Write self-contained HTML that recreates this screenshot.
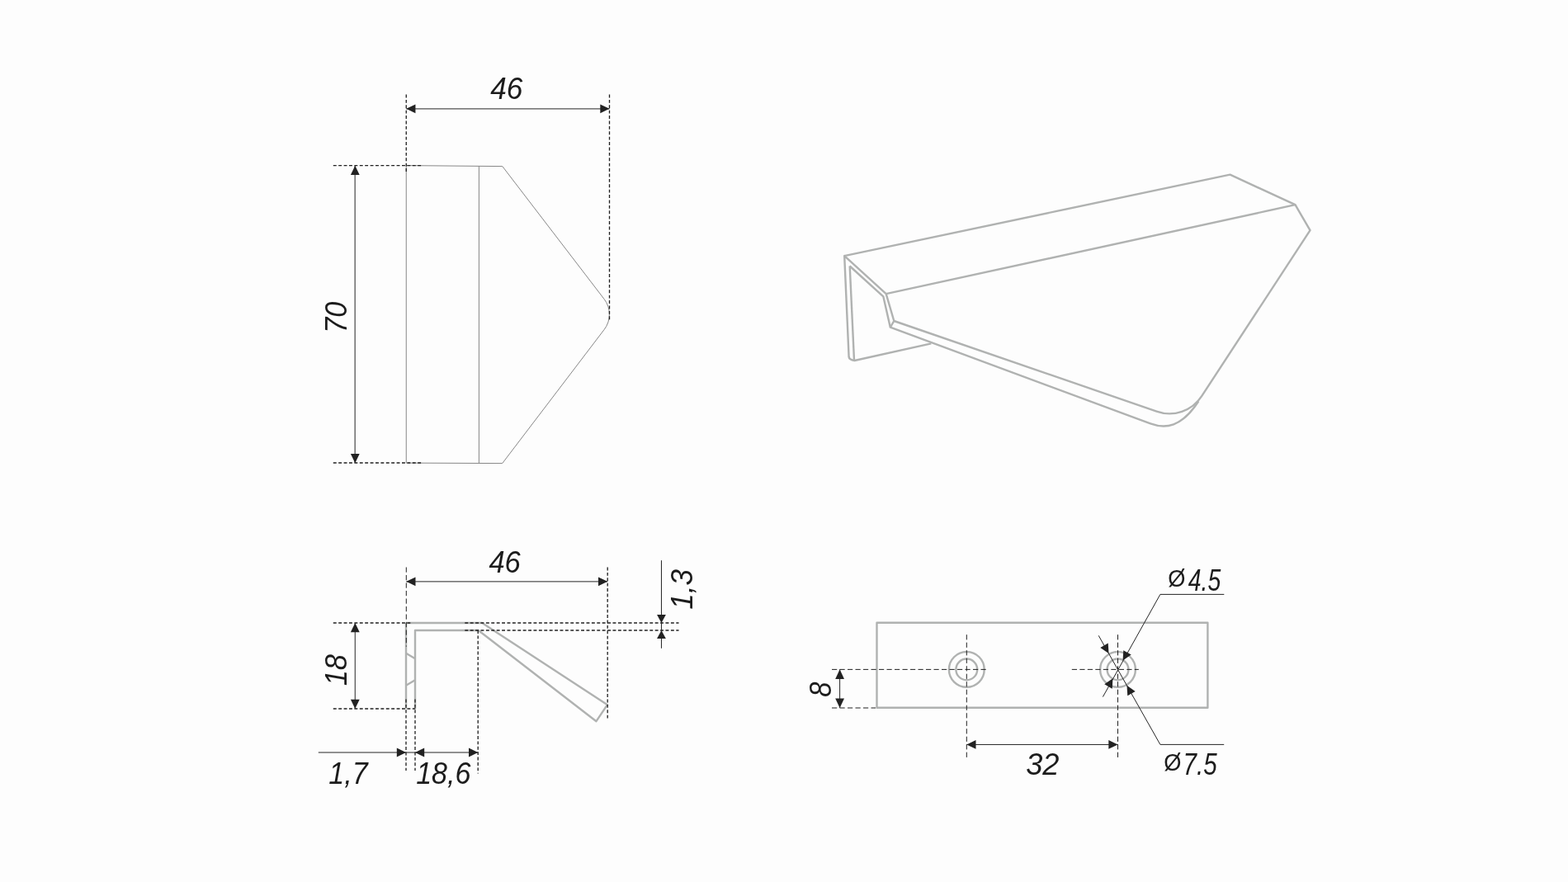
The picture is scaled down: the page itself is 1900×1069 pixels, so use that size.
<!DOCTYPE html>
<html lang="en">
<head>
<meta charset="utf-8">
<title>Handle drawing 46 x 70</title>
<style>
html,body{margin:0;padding:0;background:#fdfdfd;}
body{width:1900px;height:1069px;overflow:hidden;}
svg{display:block;will-change:transform;}
.g1{fill:none;stroke:#878787;stroke-width:1;}
.g2{fill:none;stroke:#b0b2b1;stroke-width:2.4;stroke-linejoin:round;}
.m{fill:none;stroke:#242424;stroke-width:1;}
.d{fill:none;stroke:#202020;stroke-width:1.32;stroke-dasharray:3.9 2.5;}
.d2{fill:none;stroke:#202020;stroke-width:1.0;stroke-dasharray:6.2 3.3;}
.ar{fill:#222;stroke:none;}
.t{font-family:"Liberation Sans",sans-serif;font-style:italic;fill:#1c1c1c;}
.tn{font-family:"Liberation Sans",sans-serif;font-style:normal;fill:#1c1c1c;}
</style>
</head>
<body>
<svg width="1900" height="1069" viewBox="0 0 1900 1069">
<rect x="0" y="0" width="1900" height="1069" fill="#fdfdfd"/>
<g id="view-top">
<path class="g1" d="M492.25,200.6 L608.8,201.6 L732.1,362.5 A30.3,30.3 0 0 1 732.1,399.5 L608.7,561.6 L492.25,561.1 Z"/>
<line class="g1" x1="580.4" y1="201.3" x2="580.4" y2="561.4"/>
<line class="d" x1="492.25" y1="114.5" x2="492.25" y2="208.8"/>
<line class="d" x1="738.5" y1="114.5" x2="738.5" y2="387.5"/>
<line class="d" x1="403.8" y1="200.7" x2="510.4" y2="200.7"/>
<line class="d" x1="403.8" y1="561" x2="510.4" y2="561"/>
<line class="m" x1="492.25" y1="131.92" x2="738.5" y2="131.92" stroke-width="0.52"/>
<polygon class="ar" points="492.25,131.80 503.45,126.40 503.45,137.20"/>
<polygon class="ar" points="738.50,131.80 727.30,137.20 727.30,126.40"/>
<line class="m" x1="430.14" y1="201" x2="430.14" y2="561" stroke-width="0.72"/>
<polygon class="ar" points="430.30,200.70 435.70,211.90 424.90,211.90"/>
<polygon class="ar" points="430.30,561.20 424.90,550.00 435.70,550.00"/>
<text class="t" transform="translate(594.28 119.60) scale(0.9506 1)" font-size="37">46</text>
<text class="t" transform="translate(419.70 403.75) rotate(-90) scale(0.9266 1)" font-size="37">70</text>
</g>
<g id="view-iso">
<path class="g2" d="M1023.2,310.1 L1490.5,211.7 L1569.5,248.2 L1587.5,279.2 L1456.3,479.9 A46.5,46.5 0 0 1 1401.5,498.6 L1083.3,389.0 L1073.7,356.2 L1023.2,310.1 L1028.6,432.5 Q1029,436 1035.5,437 L1128.3,416.3"/>
<path class="g2" d="M1073.7,356.2 L1569.5,248.2"/>
<path class="g2" d="M1029.7,322.5 L1070.3,359.3 L1078.8,396.7 L1394,513.4 C1412,520.1 1431.5,518.1 1452.2,486.5"/>
<path class="g2" d="M1029.7,322.5 L1035,436.8"/>
<path class="g2" d="M1083.3,389.0 L1078.8,396.7"/>
</g>
<g id="view-side">
<path class="g2" d="M492,755 L584.2,755 L736,854.2 L722.5,874.2 L579.7,764 L503,764 L503,859"/>
<path class="g2" d="M492,755 L492,859"/>
<path class="g2" d="M492,791.7 L503,798.2 M492,830.8 L503,824.3"/>
<line class="d2" x1="492.3" y1="687.5" x2="492.3" y2="783.6" stroke-width="1.35"/>
<line class="d" x1="736.2" y1="687.5" x2="736.2" y2="871.7"/>
<line class="d" x1="403.8" y1="755" x2="497.5" y2="755"/>
<line class="d" x1="563.3" y1="755" x2="822.5" y2="755"/>
<line class="d" x1="563.3" y1="764" x2="822.5" y2="764"/>
<line class="d" x1="403.8" y1="859" x2="503.3" y2="859"/>
<line class="d" x1="492" y1="847.5" x2="492" y2="934"/>
<line class="d" x1="503" y1="847.5" x2="503" y2="934"/>
<line class="d" x1="579.2" y1="764" x2="579.2" y2="937.5"/>
<line class="m" x1="492.3" y1="704.9" x2="736.2" y2="704.9" stroke-width="0.54"/>
<polygon class="ar" points="492.30,704.80 503.50,699.40 503.50,710.20"/>
<polygon class="ar" points="736.20,704.80 725.00,710.20 725.00,699.40"/>
<line class="m" x1="430.26" y1="755" x2="430.26" y2="859" stroke-width="1.2"/>
<polygon class="ar" points="430.30,755.00 435.70,766.20 424.90,766.20"/>
<polygon class="ar" points="430.30,859.00 424.90,847.80 435.70,847.80"/>
<line class="m" x1="385.8" y1="912" x2="579.3" y2="912" stroke-width="0.96"/>
<polygon class="ar" points="492.00,912.00 480.80,917.40 480.80,906.60"/>
<polygon class="ar" points="503.00,912.00 514.20,906.60 514.20,917.40"/>
<polygon class="ar" points="579.20,912.00 568.00,917.40 568.00,906.60"/>
<line class="m" x1="801.46" y1="679.2" x2="801.46" y2="785.8" stroke-width="0.84"/>
<polygon class="ar" points="801.46,755.00 796.06,745.00 806.86,745.00"/>
<polygon class="ar" points="801.46,764.00 806.86,774.00 796.06,774.00"/>
<text class="t" transform="translate(592.38 693.50) scale(0.9335 1)" font-size="37">46</text>
<text class="t" transform="translate(419.80 831.37) rotate(-90) scale(0.93 1)" font-size="37">18</text>
<text class="t" transform="translate(398.33 950.10) scale(0.92 1)" font-size="37">1,7</text>
<text class="t" transform="translate(504.15 950.10) scale(0.92 1)" font-size="37">18,6</text>
<text class="t" transform="translate(839.20 738.75) rotate(-90) scale(0.948 1)" font-size="37">1,3</text>
</g>
<g id="view-back">
<rect class="g2" x="1062.5" y="754.8" width="400.9" height="103"/>
<circle class="g2" cx="1171.3" cy="811.4" r="21.4"/>
<circle class="g2" cx="1171.3" cy="811.4" r="12.9"/>
<circle class="g2" cx="1354.5" cy="811.4" r="21.4"/>
<circle class="g2" cx="1354.5" cy="811.4" r="12.9"/>
<line class="d2" x1="1008" y1="811.4" x2="1197.6" y2="811.4"/>
<line class="d2" x1="1008" y1="858" x2="1061" y2="858"/>
<line class="d2" x1="1171.3" y1="769.2" x2="1171.3" y2="921"/>
<line class="d2" x1="1298.8" y1="811.4" x2="1379.8" y2="811.4"/>
<line class="d2" x1="1354.5" y1="769.2" x2="1354.5" y2="921"/>
<line class="m" x1="1017.6" y1="811.4" x2="1017.6" y2="858" stroke-width="1.1"/>
<polygon class="ar" points="1017.60,811.30 1023.00,822.90 1012.20,822.90"/>
<polygon class="ar" points="1017.60,858.00 1012.20,846.40 1023.00,846.40"/>
<line class="m" x1="1171.3" y1="902.45" x2="1354.5" y2="902.45" stroke-width="1.05"/>
<polygon class="ar" points="1171.30,902.40 1182.50,897.00 1182.50,907.80"/>
<polygon class="ar" points="1354.50,902.40 1343.30,907.80 1343.30,897.00"/>
<path class="m" d="M1483.3,720.4 L1405.9,720.4 L1336.4,844.6" stroke-width="1.05"/>
<path class="m" d="M1331.2,770.3 L1405.9,902.4 L1483.2,902.4" stroke-width="1.05"/>
<polygon class="ar" points="1360.56,800.58 1361.31,788.17 1370.74,793.44"/>
<polygon class="ar" points="1348.44,822.22 1347.69,834.63 1338.26,829.36"/>
<polygon class="ar" points="1343.52,791.99 1333.31,784.90 1342.71,779.58"/>
<polygon class="ar" points="1365.48,830.81 1375.69,837.90 1366.29,843.22"/>
<text class="t" transform="translate(1006.90 844.77) rotate(-90) scale(0.8873 1)" font-size="37">8</text>
<text class="t" transform="translate(1243.15 938.50) scale(0.9787 1)" font-size="37">32</text>
<text class="tn" transform="translate(1415.20 710.90) scale(0.94 1)" font-size="29">Ø</text><text class="t" transform="translate(1439.80 715.80) scale(0.77 1)" font-size="36.8">4.5</text>
<text class="tn" transform="translate(1410.30 934.10) scale(0.94 1)" font-size="29">Ø</text><text class="t" transform="translate(1433.60 939.30) scale(0.804 1)" font-size="36.8">7.5</text>
</g>
</svg>
</body>
</html>
